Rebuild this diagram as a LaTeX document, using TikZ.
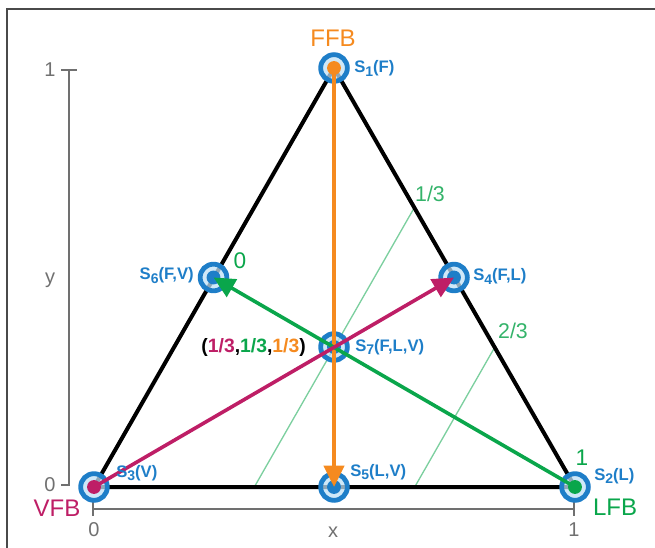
\documentclass[tikz,border=0pt]{standalone}
\usepackage{fontspec}
\setmainfont{Liberation Sans}
\usetikzlibrary{arrows.meta}

\definecolor{sblue}{HTML}{1E7EC8}
\definecolor{slight}{HTML}{BFE0F5}
\definecolor{fforange}{HTML}{F58A1F}
\definecolor{lfgreen}{HTML}{0AA64B}
\definecolor{vfmagenta}{HTML}{BE1E66}
\definecolor{gridgreen}{HTML}{7CCF9F}
\definecolor{fracgreen}{HTML}{34B36A}
\definecolor{axisgray}{HTML}{707070}
\definecolor{framegray}{HTML}{4A4A4A}

% state subscript
\newcommand{\stsub}[1]{\raisebox{-0.45ex}{\fontsize{10.5}{12}\selectfont #1}}

\begin{document}
\begin{tikzpicture}[x=0.75pt, y=-0.75pt,
  spoint/.style={circle, inner sep=0pt, minimum size=20pt, draw=sblue, line width=3.6pt,
    fill=slight, fill opacity=0.75,
    path picture={\fill[#1, fill opacity=1] (path picture bounding box.center) circle (5.2pt);}},
  slabel/.style={text=sblue, font=\fontsize{12.5}{14}\selectfont\bfseries, inner sep=0pt},
  bigtag/.style={font=\fontsize{18}{20}\selectfont, inner sep=0pt},
  axislabel/.style={text=axisgray, font=\fontsize{15}{17}\selectfont, inner sep=0pt},
  fraclabel/.style={text=fracgreen, font=\fontsize{16}{18}\selectfont, inner sep=0pt},
  flow/.style={line width=2.7pt, -{Triangle[length=16pt, width=15pt]}}
]
\useasboundingbox (0,0) rectangle (655,548);

% Frame
\draw[framegray, line width=1.1pt] (7,548) -- (7,9) -- (655,9);

% Corners of the triangle
\coordinate (vtop) at (334,68);
\coordinate (vright) at (575,487);
\coordinate (vleft) at (94,487);

% Axes
\draw[axisgray, line width=1.5pt] (61,70) -- (77,70);
\draw[axisgray, line width=1.5pt] (69,70) -- (69,485) -- (61,485);
\draw[axisgray, line width=1.5pt] (93,509) -- (574,509);
\draw[axisgray, line width=1.5pt] (93,501) -- (93,516);
\draw[axisgray, line width=1.5pt] (574,502) -- (574,516);

\node[axislabel] (ytop) at (50,70) {1};
\node[axislabel] (ybot) at (50,485) {0};
\node[axislabel] (yname) at (50,280) {y};
\node[axislabel] (xleft) at (94,530) {0};
\node[axislabel] (xright) at (574,530) {1};
\node[axislabel] (xname) at (333,532) {x};

% Lines of constant fraction
\draw[gridgreen, line width=1pt] (254.3,487) -- (414.3,207.7);
\draw[gridgreen, line width=1pt] (414.7,487) -- (494.7,347.3);
\node[fraclabel] (third) at (430,194) {1/3};
\node[fraclabel] (twothird) at (513,331) {2/3};

% Triangle
\draw[black, line width=3pt, line join=round] (vleft) -- (vtop) -- (vright) -- cycle;

% States
\node[spoint=fforange] (s1) at (vtop) {};
\node[spoint=lfgreen] (s2) at (vright) {};
\node[spoint=vfmagenta] (s3) at (vleft) {};
\node[spoint=sblue] (s4) at (454,277.5) {};
\node[spoint=sblue] (s5) at (334,487) {};
\node[spoint=sblue] (s6) at (213.5,277.5) {};
\node[spoint=sblue] (s7) at (334,347) {};

% Feeds
\draw[flow, fforange, line width=3pt] (s1.center) -- (s5.center);
\draw[flow, lfgreen] (s2.center) -- (s6.center);
\draw[flow, vfmagenta] (s3.center) -- (s4.center);

% Labels
\node[bigtag, text=fforange] (ffb) at (333,38) {FFB};
\node[bigtag, text=vfmagenta] (vfb) at (57,508) {VFB};
\node[bigtag, text=lfgreen] (lfb) at (615,507) {LFB};
\node[bigtag, text=lfgreen, font=\fontsize{17}{19}\selectfont] (zero) at (240,261) {0};
\node[bigtag, text=lfgreen, font=\fontsize{17}{19}\selectfont] (one) at (582,458) {1};

\node[slabel, anchor=base west] (l1) at (354,73) {S\stsub{1}(F)};
\node[slabel, anchor=base west] (l2) at (594,480) {S\stsub{2}(L)};
\node[slabel, anchor=base west] (l3) at (116,477) {S\stsub{3}(V)};
\node[slabel, anchor=base west] (l4) at (473,281) {S\stsub{4}(F,L)};
\node[slabel, anchor=base west] (l5) at (350,476) {S\stsub{5}(L,V)};
\node[slabel, anchor=base east] (l6) at (194,280) {S\stsub{6}(F,V)};
\node[slabel, anchor=base west] (l7) at (355,351) {S\stsub{7}(F,L,V)};

\node[anchor=east, inner sep=0pt, font=\fontsize{14.5}{16}\selectfont\bfseries] (centroid) at (306,348)
  {(\textcolor{vfmagenta}{1/3},\textcolor{lfgreen}{1/3},\textcolor{fforange}{1/3})};

\end{tikzpicture}
\end{document}
